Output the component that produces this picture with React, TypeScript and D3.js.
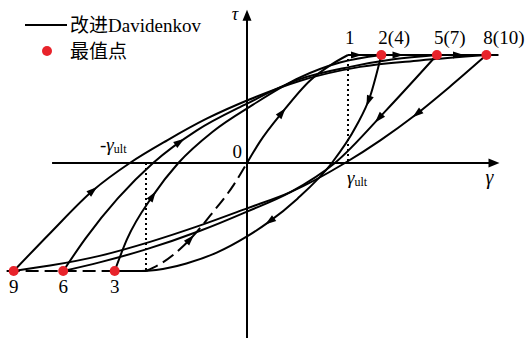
import React, { useEffect, useRef } from 'react';
import * as d3 from 'd3';

// gamma in units of gamma_ult, tau in units of tau_max
const initGamma = [0, 0.13, 0.35, 0.62, 0.85, 1.0];
const initTau = [0, 0.2, 0.47, 0.76, 0.92, 1.0];

const negGamma = [-1.0, -0.85, -0.62, -0.35, -0.13, 0];
const negTau = [-1.0, -0.93, -0.76, -0.47, -0.2, 0];

const topGamma = [1.0, 2.49];
const topTau = [1, 1];
const bottomGamma = [-2.38, -1.0];
const bottomTau = [-1, -1];

const unload23Gamma = [1.33, 1.22, 1.08, 0.84, 0.5, 0.21, 0, -0.3, -0.6, -0.9, -1.05, -1.31];
const unload23Tau = [1, 0.62, 0.34, 0, -0.33, -0.55, -0.68, -0.83, -0.93, -0.99, -1, -1];

const reload32Gamma = [-1.31, -1.19, -0.93, -0.68, -0.34, 0.06, 0.52, 0.92, 1.33];
const reload32Tau = [-1, -0.71, -0.3, 0, 0.29, 0.54, 0.79, 0.93, 1];

const unload56Gamma = [1.88, 1.38, 0.87, 0.43, 0, -0.47, -1.0, -1.46, -1.82];
const unload56Tau = [1, 0.49, 0, -0.27, -0.45, -0.63, -0.8, -0.92, -1];

const reload65Gamma = [-1.82, -1.6, -0.93, -0.5, 0, 0.5, 1.02, 1.45, 1.88];
const reload65Tau = [-1, -0.7, 0, 0.3, 0.55, 0.77, 0.89, 0.96, 1];

const unload89Gamma = [2.37, 2.0, 1.66, 1.32, 0.97, 0.43, 0, -0.47, -0.96, -1.46, -1.95, -2.31];
const unload89Tau = [1, 0.7, 0.44, 0.21, 0, -0.27, -0.42, -0.58, -0.73, -0.86, -0.95, -1];

const reload98Gamma = [-2.31, -1.95, -1.52, -1.16, -0.79, -0.4, 0.03, 0.52, 1.12, 1.71, 2.37];
const reload98Tau = [-1, -0.65, -0.25, 0, 0.21, 0.41, 0.59, 0.76, 0.89, 0.95, 1];

// extreme points
const peakLabels = ['1', '2(4)', '5(7)', '8(10)'];
const peakGamma = [1.0, 1.33, 1.88, 2.37];
const valleyLabels = ['3', '6', '9'];
const valleyGamma = [-1.31, -1.82, -2.31];

// arrows on each branch, given by gamma where they sit
const initArrows = [0.35];
const topArrows = [1.09, 1.5, 2.1];
const unload23Arrows = [1.2, 0.22];
const unload56Arrows = [1.3];
const unload89Arrows = [1.68];
const reload32Arrows = [-0.93];
const reload65Arrows = [-0.66];
const reload98Arrows = [-1.52];
const negArrows = [-0.56];

const SERIF = "'Liberation Serif', 'Times New Roman', serif";
const CJK = "'Noto Sans CJK SC', sans-serif";
const RED = '#e8232b';

const zip = (g: number[], t: number[]) => g.map((v, i) => [v, t[i]] as [number, number]);

export default function App() {
  const ref = useRef<SVGSVGElement>(null);

  useEffect(() => {
    const svg = d3.select(ref.current);
    svg.selectAll('*').remove();

    const x = d3.scaleLinear().domain([0, 1]).range([247, 348]);
    const y = d3.scaleLinear().domain([0, 1]).range([163, 55]);

    const line = d3.line<[number, number]>()
      .x(d => x(d[0]))
      .y(d => y(d[1]))
      .curve(d3.curveMonotoneX);

    const g = svg.append('g');

    // axes
    const xAxisFrom = -1.93, xAxisTo = 2.5;
    const yAxisFrom = -1.62, yAxisTo = 1.42;
    g.append('line')
      .attr('x1', x(xAxisFrom)).attr('x2', x(xAxisTo) - 6)
      .attr('y1', y(0)).attr('y2', y(0))
      .attr('stroke', '#000').attr('stroke-width', 2);
    g.append('path')
      .attr('d', `M${x(xAxisTo)},${y(0)} L${x(xAxisTo) - 11},${y(0) - 4.5} L${x(xAxisTo) - 11},${y(0) + 4.5} Z`)
      .attr('fill', '#000');
    g.append('line')
      .attr('x1', x(0)).attr('x2', x(0))
      .attr('y1', y(yAxisFrom)).attr('y2', y(yAxisTo) + 6)
      .attr('stroke', '#000').attr('stroke-width', 2);
    g.append('path')
      .attr('d', `M${x(0)},${y(yAxisTo)} L${x(0) - 4.5},${y(yAxisTo) + 11} L${x(0) + 4.5},${y(yAxisTo) + 11} Z`)
      .attr('fill', '#000');

    // dotted guides at +/- gamma_ult
    g.append('line')
      .attr('x1', x(1)).attr('x2', x(1)).attr('y1', y(1) + 4).attr('y2', y(0))
      .attr('stroke', '#000').attr('stroke-width', 2).attr('stroke-dasharray', '2 3');
    g.append('line')
      .attr('x1', x(-1)).attr('x2', x(-1)).attr('y1', y(0)).attr('y2', y(-1))
      .attr('stroke', '#000').attr('stroke-width', 2).attr('stroke-dasharray', '2 3');

    // dashed negative skeleton
    const dashed = [zip(negGamma, negTau), zip(bottomGamma, bottomTau)];
    dashed.forEach(d => {
      g.append('path').attr('d', line(d)).attr('fill', 'none')
        .attr('stroke', '#000').attr('stroke-width', 2).attr('stroke-dasharray', '13 6');
    });

    const branches = [
      { pts: zip(initGamma, initTau), arrows: initArrows },
      { pts: zip(topGamma, topTau), arrows: topArrows },
      { pts: zip(unload23Gamma, unload23Tau), arrows: unload23Arrows },
      { pts: zip(reload32Gamma, reload32Tau), arrows: reload32Arrows },
      { pts: zip(unload56Gamma, unload56Tau), arrows: unload56Arrows },
      { pts: zip(reload65Gamma, reload65Tau), arrows: reload65Arrows },
      { pts: zip(unload89Gamma, unload89Tau), arrows: unload89Arrows },
      { pts: zip(reload98Gamma, reload98Tau), arrows: reload98Arrows },
      { pts: zip(negGamma, negTau), arrows: negArrows, hidden: true },
    ];

    const arrowAt = (node: SVGPathElement, gx: number) => {
      const L = node.getTotalLength();
      const target = x(gx);
      let best = 0, bestD = Infinity;
      for (let s = 0; s <= L; s += 0.5) {
        const p = node.getPointAtLength(s);
        const dd = Math.abs(p.x - target);
        if (dd < bestD) { bestD = dd; best = s; }
      }
      const p = node.getPointAtLength(best);
      const a = node.getPointAtLength(Math.max(0, best - 2));
      const b = node.getPointAtLength(Math.min(L, best + 2));
      const len = Math.hypot(b.x - a.x, b.y - a.y) || 1;
      const ux = (b.x - a.x) / len, uy = (b.y - a.y) / len;
      const nx = -uy, ny = ux;
      const tip = [p.x + 5 * ux, p.y + 5 * uy];
      const c1 = [p.x - 6 * ux + 3.6 * nx, p.y - 6 * uy + 3.6 * ny];
      const c2 = [p.x - 6 * ux - 3.6 * nx, p.y - 6 * uy - 3.6 * ny];
      g.append('path')
        .attr('d', `M${tip[0]},${tip[1]} L${c1[0]},${c1[1]} L${c2[0]},${c2[1]} Z`)
        .attr('fill', '#000');
    };

    branches.forEach(br => {
      const path = g.append('path').attr('d', line(br.pts)).attr('fill', 'none')
        .attr('stroke', br.hidden ? 'none' : '#000').attr('stroke-width', 2)
        .attr('stroke-linejoin', 'round');
      br.arrows.forEach(a => arrowAt(path.node() as SVGPathElement, a));
    });

    // extreme points
    g.selectAll('circle.peak').data(peakGamma.slice(1)).join('circle')
      .attr('class', 'peak')
      .attr('cx', d => x(d)).attr('cy', y(1)).attr('r', 5).attr('fill', RED);
    g.selectAll('circle.valley').data(valleyGamma).join('circle')
      .attr('class', 'valley')
      .attr('cx', d => x(d)).attr('cy', y(-1)).attr('r', 5).attr('fill', RED);

    const text = g.append('g').style('font-family', SERIF).attr('fill', '#000');

    text.selectAll('text.peak').data(peakLabels).join('text')
      .attr('class', 'peak')
      .attr('x', (_, i) => x(peakGamma[i]) - 3)
      .attr('y', y(1) - 11)
      .attr('font-size', 19)
      .text(d => d);
    text.selectAll('text.valley').data(valleyLabels).join('text')
      .attr('class', 'valley')
      .attr('x', (_, i) => x(valleyGamma[i]))
      .attr('y', y(-1) + 22)
      .attr('text-anchor', 'middle')
      .attr('font-size', 19)
      .text(d => d);

    // axis names
    text.append('text').attr('x', x(0) - 12).attr('y', 20).attr('text-anchor', 'middle')
      .attr('font-size', 18).attr('font-style', 'italic').text('τ');
    text.append('text').attr('x', x(2.4)).attr('y', y(0) + 21).attr('text-anchor', 'middle')
      .attr('font-size', 20).attr('font-style', 'italic').text('γ');
    text.append('text').attr('x', x(0) - 5).attr('y', y(0) - 5).attr('text-anchor', 'end')
      .attr('font-size', 19).text('0');

    const ult = text.append('text').attr('x', x(1) - 1).attr('y', y(0) + 21).attr('font-size', 19);
    ult.append('tspan').attr('font-style', 'italic').text('γ');
    ult.append('tspan').attr('font-size', 12).attr('dy', 2).text('ult');

    const nult = text.append('text').attr('x', x(-1) - 46).attr('y', y(0) - 12).attr('font-size', 19);
    nult.append('tspan').text('-');
    nult.append('tspan').attr('font-style', 'italic').text('γ');
    nult.append('tspan').attr('font-size', 12).attr('dy', 2).text('ult');

    // legend
    const lg = svg.append('g').attr('font-size', 19);
    lg.append('line').attr('x1', 25).attr('x2', 67).attr('y1', 25).attr('y2', 25)
      .attr('stroke', '#000').attr('stroke-width', 2);
    const t1 = lg.append('text').attr('x', 70).attr('y', 32);
    t1.append('tspan').style('font-family', CJK).text('改进');
    t1.append('tspan').style('font-family', SERIF).text('Davidenkov');
    lg.append('circle').attr('cx', 47).attr('cy', 51).attr('r', 5).attr('fill', RED);
    lg.append('text').attr('x', 70).attr('y', 58).style('font-family', CJK).text('最值点');
  }, []);

  return (
    <svg
      ref={ref}
      width={526}
      height={345}
      style={{ position: 'absolute', left: 0, top: 0, background: '#fff' }}
    />
  );
}
